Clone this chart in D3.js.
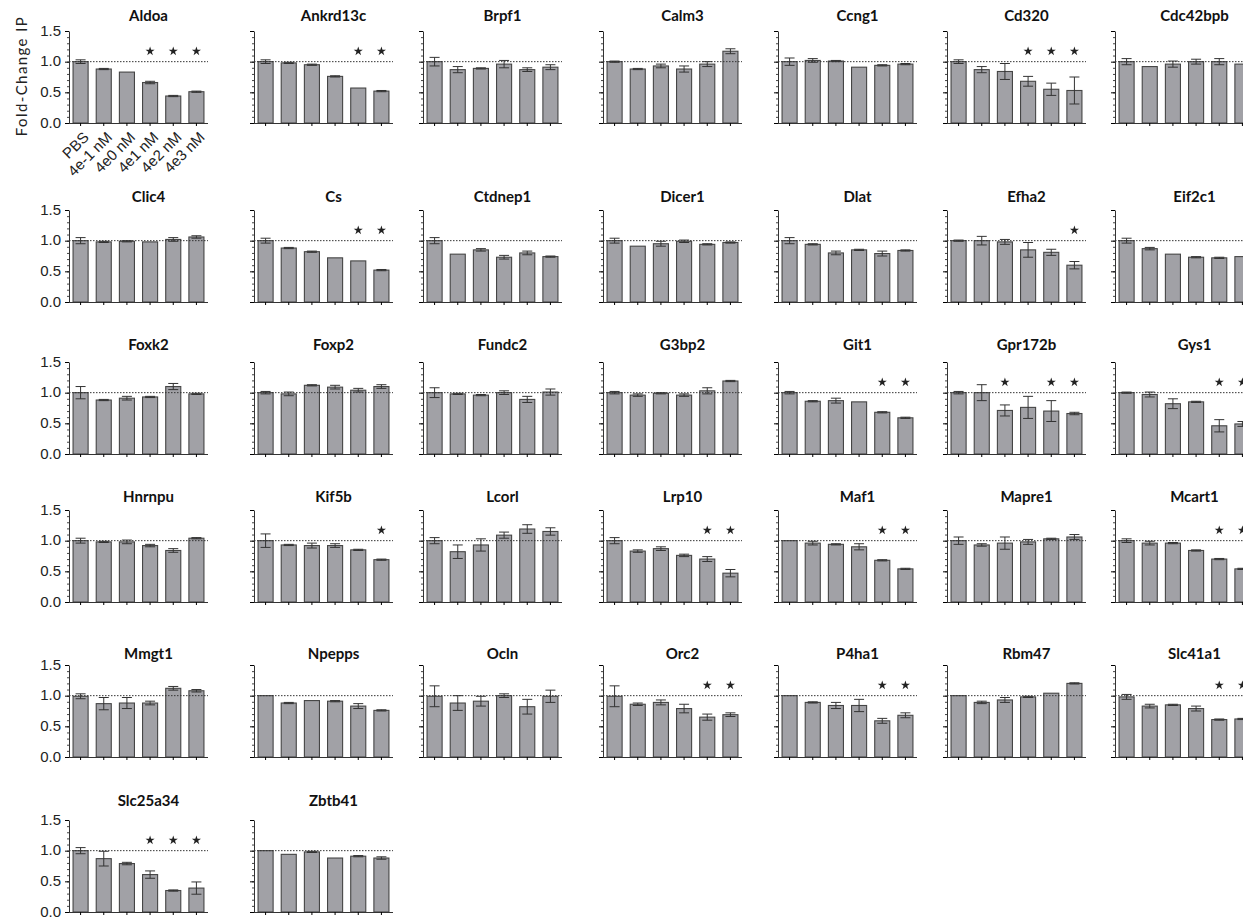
<!DOCTYPE html>
<html lang="en">
<head>
  <meta charset="UTF-8" />
  <title>Fold-Change IP small multiples</title>
  <script src="https://d3js.org/d3.v7.min.js"></script>
  <style>
    body { margin: 0; background: #fff; overflow: hidden; }
    svg { display: block; font-family: "Lato", "Noto Sans", sans-serif; }
    .title { font-weight: bold; font-size: 15px; fill: #111; }
    .tick text { font-size: 15px; fill: #222; }
    .bar { fill: #a1a1a6; stroke: #454545; stroke-width: 1.1; }
    .err { stroke: #333; stroke-width: 1; fill: none; }
    .ref { stroke: #333; stroke-width: 1; stroke-dasharray: 1.5,1.5; }
  </style>
</head>
<body>
<svg width="1243" height="921"></svg>
<script>
const genes = [
  "Aldoa", "Ankrd13c", "Brpf1", "Calm3", "Ccng1", "Cd320", "Cdc42bpb",
  "Clic4", "Cs", "Ctdnep1", "Dicer1", "Dlat", "Efha2", "Eif2c1",
  "Foxk2", "Foxp2", "Fundc2", "G3bp2", "Git1", "Gpr172b", "Gys1",
  "Hnrnpu", "Kif5b", "Lcorl", "Lrp10", "Maf1", "Mapre1", "Mcart1",
  "Mmgt1", "Npepps", "Ocln", "Orc2", "P4ha1", "Rbm47", "Slc41a1",
  "Slc25a34", "Zbtb41"
];

const doses = ["PBS", "4e-1 nM", "4e0 nM", "4e1 nM", "4e2 nM", "4e3 nM"];

// mean fold-change per gene, one value per dose
const means = [
  [1.00, 0.88, 0.83, 0.66, 0.44, 0.51],
  [1.00, 0.98, 0.95, 0.76, 0.57, 0.52],
  [1.00, 0.87, 0.89, 0.96, 0.87, 0.91],
  [1.00, 0.88, 0.93, 0.88, 0.96, 1.17],
  [1.00, 1.02, 1.01, 0.91, 0.94, 0.96],
  [1.00, 0.87, 0.84, 0.68, 0.55, 0.53],
  [1.00, 0.92, 0.96, 1.00, 1.00, 0.96],
  [1.00, 0.98, 0.99, 0.98, 1.02, 1.06],
  [1.00, 0.88, 0.82, 0.72, 0.67, 0.52],
  [1.00, 0.78, 0.85, 0.73, 0.80, 0.74],
  [1.00, 0.91, 0.95, 0.99, 0.94, 0.97],
  [1.00, 0.94, 0.80, 0.85, 0.79, 0.84],
  [1.00, 1.00, 0.98, 0.85, 0.81, 0.60],
  [1.00, 0.87, 0.78, 0.73, 0.72, 0.74],
  [1.00, 0.88, 0.91, 0.93, 1.10, 0.98],
  [1.00, 0.98, 1.12, 1.09, 1.04, 1.10],
  [1.00, 0.98, 0.96, 1.00, 0.89, 1.01],
  [1.00, 0.96, 0.99, 0.96, 1.03, 1.19],
  [1.00, 0.86, 0.87, 0.85, 0.68, 0.59],
  [1.00, 1.00, 0.71, 0.76, 0.70, 0.66],
  [1.00, 0.97, 0.82, 0.85, 0.46, 0.49],
  [1.00, 0.98, 0.98, 0.92, 0.84, 1.04],
  [1.00, 0.93, 0.92, 0.92, 0.85, 0.69],
  [1.00, 0.82, 0.93, 1.09, 1.19, 1.15],
  [1.00, 0.83, 0.87, 0.76, 0.70, 0.47],
  [1.00, 0.96, 0.94, 0.90, 0.68, 0.54],
  [1.00, 0.93, 0.96, 0.98, 1.03, 1.06],
  [1.00, 0.96, 0.96, 0.84, 0.70, 0.54],
  [0.99, 0.87, 0.88, 0.88, 1.12, 1.08],
  [1.00, 0.88, 0.92, 0.91, 0.83, 0.76],
  [0.99, 0.88, 0.91, 1.00, 0.82, 0.99],
  [0.99, 0.86, 0.89, 0.79, 0.65, 0.69],
  [1.00, 0.89, 0.84, 0.84, 0.59, 0.68],
  [1.00, 0.89, 0.93, 0.98, 1.04, 1.20],
  [0.98, 0.83, 0.85, 0.79, 0.61, 0.62],
  [1.00, 0.87, 0.79, 0.61, 0.35, 0.39],
  [1.00, 0.94, 0.98, 0.88, 0.91, 0.88]
];

// error (+/-) per bar
const errs = [
  [0.03, 0.01, 0.00, 0.02, 0.01, 0.01],
  [0.03, 0.01, 0.01, 0.01, 0.00, 0.01],
  [0.07, 0.05, 0.01, 0.06, 0.03, 0.04],
  [0.01, 0.01, 0.03, 0.05, 0.04, 0.04],
  [0.06, 0.03, 0.01, 0.00, 0.01, 0.01],
  [0.03, 0.05, 0.13, 0.08, 0.10, 0.22],
  [0.05, 0.00, 0.05, 0.04, 0.05, 0.00],
  [0.05, 0.01, 0.01, 0.00, 0.03, 0.02],
  [0.04, 0.01, 0.01, 0.00, 0.00, 0.01],
  [0.05, 0.00, 0.02, 0.03, 0.03, 0.01],
  [0.04, 0.00, 0.04, 0.02, 0.01, 0.01],
  [0.05, 0.01, 0.03, 0.01, 0.04, 0.01],
  [0.01, 0.07, 0.04, 0.12, 0.05, 0.06],
  [0.04, 0.02, 0.00, 0.01, 0.01, 0.00],
  [0.10, 0.01, 0.03, 0.01, 0.05, 0.01],
  [0.02, 0.03, 0.01, 0.03, 0.03, 0.03],
  [0.08, 0.01, 0.01, 0.03, 0.05, 0.05],
  [0.02, 0.02, 0.01, 0.02, 0.05, 0.01],
  [0.02, 0.01, 0.04, 0.00, 0.01, 0.01],
  [0.02, 0.13, 0.09, 0.18, 0.17, 0.02],
  [0.01, 0.04, 0.08, 0.01, 0.10, 0.04],
  [0.04, 0.01, 0.03, 0.02, 0.03, 0.01],
  [0.11, 0.01, 0.04, 0.03, 0.01, 0.01],
  [0.05, 0.11, 0.10, 0.05, 0.07, 0.06],
  [0.05, 0.02, 0.03, 0.02, 0.04, 0.06],
  [0.00, 0.03, 0.01, 0.05, 0.01, 0.01],
  [0.06, 0.02, 0.10, 0.04, 0.01, 0.04],
  [0.03, 0.03, 0.01, 0.01, 0.01, 0.01],
  [0.04, 0.10, 0.09, 0.03, 0.03, 0.02],
  [0.00, 0.01, 0.00, 0.01, 0.04, 0.01],
  [0.17, 0.12, 0.08, 0.03, 0.12, 0.10],
  [0.17, 0.02, 0.04, 0.07, 0.05, 0.03],
  [0.00, 0.01, 0.05, 0.10, 0.04, 0.04],
  [0.00, 0.02, 0.04, 0.01, 0.00, 0.01],
  [0.04, 0.03, 0.01, 0.04, 0.01, 0.01],
  [0.05, 0.12, 0.02, 0.06, 0.01, 0.10],
  [0.00, 0.00, 0.01, 0.00, 0.01, 0.02]
];

// indices of doses marked significant
const stars = [
  [3, 4, 5], [4, 5], [], [], [], [3, 4, 5], [],
  [], [4, 5], [], [], [], [5], [],
  [], [], [], [], [4, 5], [2, 4, 5], [4, 5],
  [], [5], [], [4, 5], [4, 5], [], [4, 5],
  [], [], [], [4, 5], [4, 5], [], [4, 5],
  [3, 4, 5], []
];

const yTicks = [0, 0.5, 1.0, 1.5];

// layout
const colX = [69, 254, 423, 603, 778, 947, 1115];
const rowBottom = [123, 302, 454, 602, 757, 912];
const titleY = [21, 202, 350, 502, 659, 806];
const plotW = 139, plotH = 92;

const svg = d3.select("svg");

const x = d3.scaleBand().domain(doses).range([0, plotW]).paddingInner(0.35).paddingOuter(0.175);
const y = d3.scaleLinear().domain([0, 1.5]).range([plotH, 0]);
const star = d3.symbol(d3.symbolStar, 26);

genes.forEach((gene, i) => {
  const col = i % 7, row = Math.floor(i / 7);
  const top = rowBottom[row] - plotH;
  const g = svg.append("g")
    .attr("transform", `translate(${colX[col]},${top})`);

  const data = doses.map((d, j) => ({ dose: d, v: means[i][j], e: errs[i][j], sig: stars[i].includes(j) }));

  g.append("text")
    .attr("class", "title")
    .attr("x", plotW / 2 + 10)
    .attr("y", titleY[row] - top)
    .attr("text-anchor", "middle")
    .text(gene);

  g.selectAll("rect.bar")
    .data(data)
    .join("rect")
    .attr("class", "bar")
    .attr("x", d => x(d.dose))
    .attr("width", x.bandwidth())
    .attr("y", d => y(d.v))
    .attr("height", d => plotH - y(d.v));

  const eb = g.selectAll("g.eb")
    .data(data.filter(d => d.e > 0))
    .join("g")
    .attr("class", "eb")
    .attr("transform", d => `translate(${x(d.dose) + x.bandwidth() / 2},0)`);
  eb.append("line").attr("class", "err")
    .attr("y1", d => y(d.v - d.e)).attr("y2", d => y(d.v + d.e));
  eb.append("line").attr("class", "err")
    .attr("x1", -5).attr("x2", 5)
    .attr("y1", d => y(d.v + d.e)).attr("y2", d => y(d.v + d.e));
  eb.append("line").attr("class", "err")
    .attr("x1", -5).attr("x2", 5)
    .attr("y1", d => y(d.v - d.e)).attr("y2", d => y(d.v - d.e));

  g.append("line")
    .attr("class", "ref")
    .attr("x1", 0).attr("x2", plotW)
    .attr("y1", y(1)).attr("y2", y(1));

  g.selectAll("path.star")
    .data(data.filter(d => d.sig))
    .join("path")
    .attr("class", "star")
    .attr("d", star)
    .attr("transform", d => `translate(${x(d.dose) + x.bandwidth() / 2},${y(1.17)})`)
    .attr("fill", "#222");

  // minor ticks on y
  g.append("g")
    .call(d3.axisLeft(y).tickValues(d3.range(0, 1.51, 0.1)).tickSize(2).tickFormat(""))
    .call(a => a.select(".domain").remove())
    .selectAll("line").attr("stroke", "#444");

  const yAxis = g.append("g")
    .call(d3.axisLeft(y).tickValues(yTicks).tickSize(4).tickSizeOuter(0)
      .tickFormat(col === 0 ? d3.format(".1f") : ""));
  yAxis.select(".domain").attr("stroke", "#333");
  yAxis.selectAll("text").attr("x", -8).attr("dy", "0.28em");

  const xAxis = g.append("g")
    .attr("transform", `translate(0,${plotH})`)
    .call(d3.axisBottom(x).tickSize(3).tickSizeOuter(0).tickFormat(i === 0 ? d => d : ""));
  xAxis.select(".domain").attr("stroke", "#333").attr("d", `M0,0.5H${plotW}`);
  if (i === 0) {
    xAxis.selectAll("text")
      .attr("text-anchor", "end")
      .attr("dx", 0).attr("dy", 0)
      .attr("transform", "translate(5,11) rotate(-45)");
  }
});

svg.append("text")
  .attr("transform", `translate(27,76) rotate(-90)`)
  .attr("text-anchor", "middle")
  .attr("font-size", 15)
  .attr("letter-spacing", 1.4)
  .attr("fill", "#222")
  .text("Fold-Change IP");
</script>
</body>
</html>
